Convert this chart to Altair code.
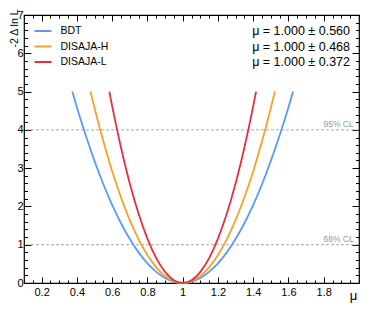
import altair as alt
import pandas as pd

FONT = "Liberation Sans"

series_names = ["BDT", "DISAJA-H", "DISAJA-L"]
series_colors = ["#5b9bf7", "#f7a226", "#e5303f"]
fit_labels = ["μ = 1.000 ± 0.560", "μ = 1.000 ± 0.468", "μ = 1.000 ± 0.372"]

bdt_mu = [0.374, 0.40, 0.45, 0.50, 0.55, 0.60, 0.65, 0.70, 0.75, 0.80, 0.85, 0.90, 0.95, 1.00,
          1.05, 1.10, 1.15, 1.20, 1.25, 1.30, 1.35, 1.40, 1.45, 1.50, 1.55, 1.60, 1.626]
bdt_nll = [5.00, 4.59, 3.86, 3.19, 2.58, 2.04, 1.56, 1.15, 0.80, 0.51, 0.29, 0.13, 0.03, 0.00,
           0.03, 0.13, 0.29, 0.51, 0.80, 1.15, 1.56, 2.04, 2.58, 3.19, 3.86, 4.59, 5.00]

dh_mu = [0.477, 0.50, 0.55, 0.60, 0.65, 0.70, 0.75, 0.80, 0.85, 0.90, 0.95, 1.00,
         1.05, 1.10, 1.15, 1.20, 1.25, 1.30, 1.35, 1.40, 1.45, 1.50, 1.523]
dh_nll = [5.00, 4.57, 3.70, 2.92, 2.24, 1.64, 1.14, 0.73, 0.41, 0.18, 0.05, 0.00,
          0.05, 0.18, 0.41, 0.73, 1.14, 1.64, 2.24, 2.92, 3.70, 4.57, 5.00]

dl_mu = [0.584, 0.60, 0.65, 0.70, 0.75, 0.80, 0.85, 0.90, 0.95, 1.00,
         1.05, 1.10, 1.15, 1.20, 1.25, 1.30, 1.35, 1.40, 1.416]
dl_nll = [5.00, 4.62, 3.54, 2.60, 1.81, 1.16, 0.65, 0.29, 0.07, 0.00,
          0.07, 0.29, 0.65, 1.16, 1.81, 2.60, 3.54, 4.62, 5.00]

cl_levels = [1, 4]
cl_labels = ["68% CL", "95% CL"]

x_major = [0.2, 0.4, 0.6, 0.8, 1.0, 1.2, 1.4, 1.6, 1.8]
x_minor = [0.1, 0.15, 0.2, 0.25, 0.3, 0.35, 0.4, 0.45, 0.5, 0.55, 0.6, 0.65, 0.7, 0.75,
           0.8, 0.85, 0.9, 0.95, 1.0, 1.05, 1.1, 1.15, 1.2, 1.25, 1.3, 1.35, 1.4, 1.45,
           1.5, 1.55, 1.6, 1.65, 1.7, 1.75, 1.8, 1.85, 1.9, 1.95, 2.0]
y_major = [0, 1, 2, 3, 4, 5, 6, 7]
y_minor = [0, 0.2, 0.4, 0.6, 0.8, 1, 1.2, 1.4, 1.6, 1.8, 2, 2.2, 2.4, 2.6, 2.8, 3, 3.2, 3.4,
           3.6, 3.8, 4, 4.2, 4.4, 4.6, 4.8, 5, 5.2, 5.4, 5.6, 5.8, 6, 6.2, 6.4, 6.6, 6.8, 7]

rows = []
for i, (name, mus, vals) in enumerate(zip(series_names, [bdt_mu, dh_mu, dl_mu], [bdt_nll, dh_nll, dl_nll])):
    for k, (m, v) in enumerate(zip(mus, vals)):
        rows.append({"series": name, "mu": m, "nll": v, "idx": k})
df = pd.DataFrame(rows)
cl_df = pd.DataFrame({"level": cl_levels, "label": cl_labels})
fit_df = pd.DataFrame({"label": fit_labels, "row": [0, 1, 2]})

W, H = 335, 268
xs = alt.Scale(domain=[0.1, 2.0], nice=False, zero=False)
ys = alt.Scale(domain=[0, 7], nice=False, zero=False)

rules = alt.Chart(cl_df).mark_rule(color="#a8a8a8", strokeWidth=1, strokeDash=[3, 2]).encode(
    y=alt.Y("level:Q", scale=ys, axis=None)
)
cl_text = alt.Chart(cl_df).mark_text(
    align="right", baseline="alphabetic", dy=-3, fontSize=8.5, font=FONT, color="#999999"
).encode(
    x=alt.X(datum=1.97, axis=None),
    y=alt.Y("level:Q", axis=None),
    text="label:N",
)

curves = alt.Chart(df).mark_line(strokeWidth=1.8, interpolate="monotone").encode(
    x=alt.X("mu:Q", scale=xs, axis=alt.Axis(
        orient="bottom", values=x_major, format=".1~f", ticks=False, domain=False, grid=False,
        labelFont=FONT, labelFontSize=11, labelPadding=3, labelColor="black",
        title="μ", titleFont=FONT, titleFontSize=13, titleFontWeight="normal", titleColor="black",
        titleX=329, titleY=16, titleAlign="center", titleBaseline="alphabetic")),
    y=alt.Y("nll:Q", scale=ys, axis=alt.Axis(
        orient="left", values=y_major, ticks=False, domain=False, grid=False,
        labelFont=FONT, labelFontSize=11, labelPadding=1, labelColor="black",
        title="-2 Δ ln L", titleFont=FONT, titleFontSize=10.5, titleFontWeight="normal",
        titleColor="black", titleAngle=270, titleAlign="right", titleBaseline="alphabetic",
        titleX=-6.5, titleY=-6)),
    color=alt.Color("series:N", scale=alt.Scale(domain=series_names, range=series_colors),
                    legend=alt.Legend(orient="none", legendX=9.5, legendY=9.5, title=None,
                                      symbolType="stroke", symbolSize=289, symbolStrokeWidth=2,
                                      labelFont=FONT, labelFontSize=10.5, labelOffset=8,
                                      clipHeight=13, rowPadding=2.5, padding=0)),
    order="idx:Q",
)


def tick_layer(xorient, xoff, yorient, yoff, xvals, yvals, xsize, ysize):
    return alt.Chart(df).mark_point(opacity=0).encode(
        x=alt.X("mu:Q", scale=xs, axis=alt.Axis(
            orient=xorient, offset=xoff, values=xvals, labels=False, domain=False, grid=False,
            ticks=True, tickSize=xsize, tickColor="black", tickWidth=1, title="")),
        y=alt.Y("nll:Q", scale=ys, axis=alt.Axis(
            orient=yorient, offset=yoff, values=yvals, labels=False, domain=False, grid=False,
            ticks=True, tickSize=ysize, tickColor="black", tickWidth=1, title="")),
    )


t1 = tick_layer("top", -H, "right", -W, x_major, y_major, 6, 7)
t2 = tick_layer("bottom", -H, "left", -W, x_major, y_major, 6, 7)
t3 = tick_layer("top", -H, "right", -W, x_minor, y_minor, 3, 3.5)
t4 = tick_layer("bottom", -H, "left", -W, x_minor, y_minor, 3, 3.5)

fit_text = alt.Chart(fit_df).transform_calculate(
    ypix="16 + datum.row * 15.5"
).mark_text(align="right", baseline="middle", fontSize=12.5, font=FONT, color="black").encode(
    x=alt.value(326),
    y=alt.Y("ypix:Q", scale=None, axis=None),
    text="label:N",
)

chart = alt.layer(rules, cl_text, curves, t1, t2, t3, t4, fit_text).resolve_axis(
    x="independent", y="independent"
).properties(
    width=W, height=H,
    padding={"left": 16, "top": 7, "right": 7, "bottom": 21},
    autosize=alt.AutoSizeParams(type="none"),
).configure_view(stroke="black", strokeWidth=1.2).configure_axis(grid=False)

chart.save("out.html", embed_options={"renderer": "svg", "actions": False})
